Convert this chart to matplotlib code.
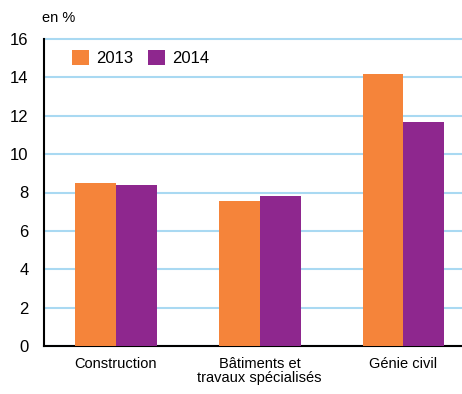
import numpy as np
import matplotlib.pyplot as plt

categories = ['Construction', 'Bâtiments et\ntravaux spécialisés', 'Génie civil']
v2013 = [8.5, 7.55, 14.15]
v2014 = [8.4, 7.8, 11.7]
yticks = [0, 2, 4, 6, 8, 10, 12, 14, 16]

plt.rcParams['font.family'] = ['Liberation Sans', 'DejaVu Sans']

fig = plt.figure(figsize=(4.62, 3.94), dpi=100)
ax = fig.add_axes([44/462, 48/394, 417/462, 307/394])

x = np.arange(len(categories))
w = 0.285
ax.bar(x - w/2, v2013, w, color='#f5843a', label='2013', zorder=3)
ax.bar(x + w/2, v2014, w, color='#8e278e', label='2014', zorder=3)

ax.set_xlim(-0.5, 2.4)
ax.set_ylim(0, 16)
ax.set_yticks(yticks)
ax.set_xticks(x)
ax.set_xticklabels(categories, fontsize=10.5, linespacing=1.0)
ax.tick_params(axis='y', labelsize=12, length=0, pad=11)
ax.tick_params(axis='x', length=0, pad=8)
ax.yaxis.grid(True, color='#a9d9f2', linewidth=1.5, zorder=0)
for gl in ax.get_ygridlines():
    gl.set_clip_on(False)
for s in ['top', 'right']:
    ax.spines[s].set_visible(False)
ax.spines['left'].set_linewidth(1.5)
ax.spines['bottom'].set_linewidth(1.5)

fig.text(42/462, 1 - 18/394, 'en %', fontsize=10.5, va='center')

ax.legend(loc='upper left', bbox_to_anchor=(0.067, 0.965), ncol=2, frameon=False,
          fontsize=12, handlelength=1.0, handleheight=1.0, columnspacing=0.9,
          handletextpad=0.45, borderpad=0, borderaxespad=0)

fig.savefig('out.png', dpi=100)
